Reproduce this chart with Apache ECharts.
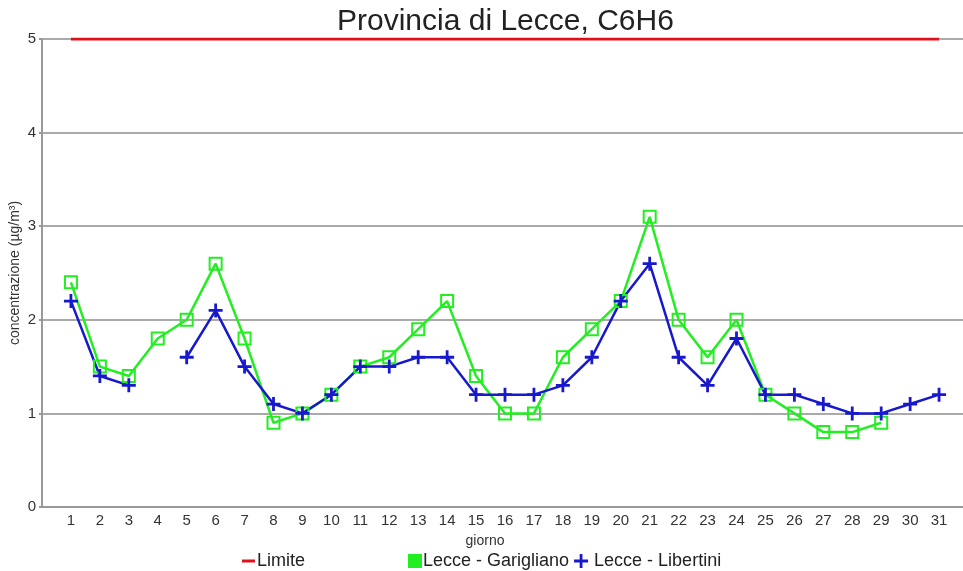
<!DOCTYPE html>
<html>
<head>
<meta charset="utf-8">
<style>html,body{margin:0;padding:0;background:#fff}#c{width:963px;height:571px}</style>
<script src="https://cdn.jsdelivr.net/npm/echarts@6/dist/echarts.min.js"></script>
</head>
<body>
<div id="c"></div>
<script>
var days = [1,2,3,4,5,6,7,8,9,10,11,12,13,14,15,16,17,18,19,20,21,22,23,24,25,26,27,28,29,30,31];
var garigliano = [2.4,1.5,1.4,1.8,2.0,2.6,1.8,0.9,1.0,1.2,1.5,1.6,1.9,2.2,1.4,1.0,1.0,1.6,1.9,2.2,3.1,2.0,1.6,2.0,1.2,1.0,0.8,0.8,0.9,null,null];
var libertini = [2.2,1.4,1.3,null,1.6,2.1,1.5,1.1,1.0,1.2,1.5,1.5,1.6,1.6,1.2,1.2,1.2,1.3,1.6,2.2,2.6,1.6,1.3,1.8,1.2,1.2,1.1,1.0,1.0,1.1,1.2];
var limitDays = [1,31];
var limitValues = [5,5];
var yTicks = [0,1,2,3,4,5];

function pairs(xs, ys){ return xs.map(function(x,i){ return [x, ys[i]]; }); }

var FONT = 'Liberation Sans, Arial, sans-serif';
var plus = 'path://M4,0H6V4H10V6H6V10H4V6H0V4H4Z';

var chart = echarts.init(document.getElementById('c'));
chart.setOption({
  animation: false,
  backgroundColor: '#fff',
  title: {
    text: 'Provincia di Lecce, C6H6',
    left: 332, top: 2,
    textStyle: {fontFamily: FONT, fontSize: 30, fontWeight: 'normal', color: '#222'}
  },
  legend: [{
    left: 237, top: 547, itemWidth: 13, itemHeight: 3, itemGap: 4,
    textStyle: {fontFamily: FONT, fontSize: 18, color: '#222', padding: [0,0,0,-3]},
    data: [{name: 'Limite', icon: 'rect'}]
  },{
    left: 403, top: 547, itemWidth: 14, itemHeight: 14, itemGap: 5,
    textStyle: {fontFamily: FONT, fontSize: 18, color: '#222', padding: [0,0,0,-4]},
    data: [{name: 'Lecce - Garigliano', icon: 'rect', itemStyle: {color: '#22ee22', borderColor: '#22ee22', borderWidth: 0}},
           {name: 'Lecce - Libertini', icon: plus, textStyle: {padding: [0,0,0,1]}}]
  }],
  grid: {left: 42, right: -5, top: 39, bottom: 64, containLabel: false, outerBoundsMode: 'none'},
  xAxis: {
    type: 'value', min: 0, max: 32, interval: 1,
    name: 'giorno', nameLocation: 'middle', nameGap: 27, nameMoveOverlap: false,
    nameTextStyle: {fontFamily: FONT, fontSize: 14, color: '#333', padding: [0, 40, 0, 0]},
    axisLine: {show: true, lineStyle: {color: '#999', width: 2}},
    axisTick: {show: false},
    splitLine: {show: false},
    axisLabel: {
      fontFamily: FONT, fontSize: 15, color: '#333', margin: 6,
      formatter: function(v){ return (v >= 1 && v <= 31) ? String(v) : ''; }
    }
  },
  yAxis: {
    type: 'value', min: 0, max: 5, interval: 1,
    name: 'concentrazione (µg/m³)', nameLocation: 'middle', nameGap: 20, nameMoveOverlap: false,
    nameTextStyle: {fontFamily: FONT, fontSize: 14, color: '#333'},
    axisLine: {show: true, lineStyle: {color: '#999', width: 2}},
    axisTick: {show: true, length: 3, lineStyle: {color: '#999', width: 2}},
    splitLine: {show: true, lineStyle: {color: '#aaa', width: 2}},
    axisLabel: {fontFamily: FONT, fontSize: 15, color: '#333', margin: 6,
      formatter: function(v){ return yTicks.indexOf(v) >= 0 ? String(v) : ''; }}
  },
  series: [{
    name: 'Limite', type: 'line', data: pairs(limitDays, limitValues),
    symbol: 'none', color: '#e0101a',
    lineStyle: {color: '#e0101a', width: 3}
  },{
    name: 'Lecce - Garigliano', type: 'line', data: pairs(days, garigliano),
    symbol: 'rect', symbolSize: 12, color: '#22ee22', connectNulls: false,
    itemStyle: {color: 'transparent', borderColor: '#22ee22', borderWidth: 2},
    lineStyle: {color: '#22ee22', width: 2.5}
  },{
    name: 'Lecce - Libertini', type: 'line', data: pairs(days, libertini),
    symbol: plus, symbolSize: 14, color: '#1818cc', connectNulls: false,
    itemStyle: {color: '#1818cc'},
    lineStyle: {color: '#1818cc', width: 2.5}
  }]
});
</script>
</body>
</html>
